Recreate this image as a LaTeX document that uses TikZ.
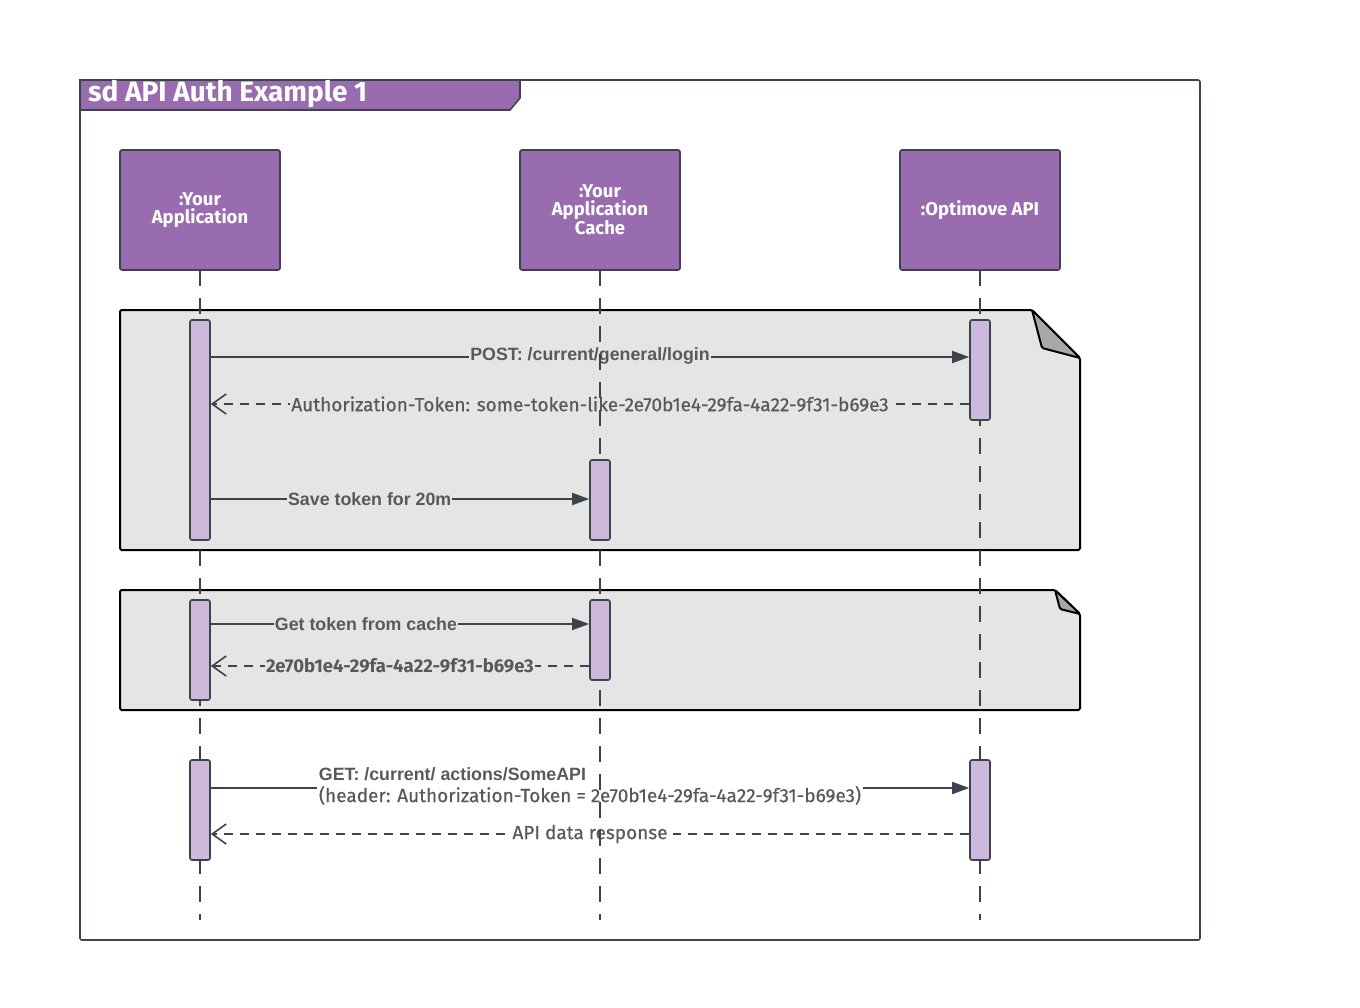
\documentclass[tikz,border=0pt]{standalone}
\usepackage{fontspec}
\setmainfont{Fira Sans}
\newfontfamily\arialfont{Liberation Sans}
\newfontfamily\firamid[FakeBold=0.5]{Fira Sans}
\usepackage{tikz}
\usetikzlibrary{arrows.meta,positioning,calc}
\definecolor{umlpurple}{HTML}{986CAE}
\definecolor{umlviolet}{HTML}{CDB9DC}
\definecolor{umlline}{HTML}{3C434D}
\definecolor{umltext}{HTML}{58595B}
\definecolor{notegray}{HTML}{E5E5E5}
\definecolor{foldgray}{HTML}{A8A8A8}
\pgfdeclarelayer{back}
\pgfdeclarelayer{mid}
\pgfsetlayers{back,mid,main}

\begin{document}
\begin{tikzpicture}[x=1pt,y=-1pt,node distance=240pt,
head/.style={
% The shape:
rectangle,rounded corners=2pt,outer sep=0pt,
% The size:
minimum width=160pt,minimum height=120pt,
% The border:
line width=1.6pt,draw=umlline,
% The filling:
fill=umlpurple,
% Font
text=white,align=center,font=\bfseries\fontsize{18.5}{18}\selectfont
},
act/.style={
% The shape:
rectangle,rounded corners=2pt,inner sep=0pt,
minimum width=20pt,
% The rest
line width=1.6pt,draw=umlline,fill=umlviolet},
life/.style={draw=umlline,line width=1.6pt,dash pattern=on 16pt off 12pt},
msg/.style={draw=umlline,line width=1.6pt,-{Triangle[length=17pt,width=12pt]}},
reply/.style={draw=umlline,line width=1.6pt,dash pattern=on 9pt off 7pt,
  -{Straight Barb[length=14pt,width=20pt,line width=1.6pt]}},
note/.style={draw=black,line width=2pt,fill=notegray,rounded corners=1.5pt},
lbl/.style={text=umltext,inner sep=1.5pt,font=\firamid\fontsize{19}{22}\selectfont},
albl/.style={text=umltext,inner sep=1pt,font=\arialfont\bfseries\fontsize{17.8}{22}\selectfont}
]
\useasboundingbox (0,0) rectangle (1360,1007);

% frame and title
\begin{pgfonlayer}{back}
\draw[umlline,line width=1.6pt,rounded corners=2pt] (80,80) rectangle (1200,940);
\draw[umlline,line width=1.6pt,fill=umlpurple] (80,80) -- (520,80) -- (520,98) -- (510,110) -- (80,110) -- cycle;
\node (title) [anchor=west,text=white,font=\bfseries\fontsize{28}{30}\selectfont,inner sep=0pt] at (88,94) {sd API Auth Example 1};
\end{pgfonlayer}

% lifeline heads
\node (app) [head] at (200,210) {:Your\\Application};
\node (cache) [head, right=of app] {:Your\\Application\\Cache};
\node (api) [head, right=220pt of cache] {:Optimove API};
\coordinate (bottom) at (0,920);

% notes
\begin{pgfonlayer}{back}
\draw[note] (120,310) -- (1032,310) -- (1080,358) -- (1080,550) -- (120,550) -- cycle;
\draw[note,fill=foldgray] (1032,310) -- (1042,348) -- (1080,358) -- cycle;
\draw[note] (120,590) -- (1055,590) -- (1080,614) -- (1080,710) -- (120,710) -- cycle;
\draw[note,fill=foldgray] (1055,590) -- (1060,609) -- (1080,614) -- cycle;
\end{pgfonlayer}

% lifelines
\begin{pgfonlayer}{mid}
\draw[life] (app.south) -- (app.south |- bottom);
\draw[life] (cache.south) -- (cache.south |- bottom);
\draw[life] (api.south) -- (api.south |- bottom);
\end{pgfonlayer}

% activations
\node (a1) [act, minimum height=220pt] at (200,430) {};
\node (o1) [act, minimum height=100pt] at (980,370) {};
\node (c1) [act, minimum height=80pt] at (600,500) {};
\node (a2) [act, minimum height=100pt] at (200,650) {};
\node (c2) [act, minimum height=80pt] at (600,640) {};
\node (a3) [act, minimum height=100pt] at (200,810) {};
\node (o3) [act, minimum height=100pt] at (980,810) {};

% messages
\coordinate (m1) at (0,357);
\coordinate (m2) at (0,404);
\coordinate (m3) at (0,499);
\coordinate (m4) at (0,624);
\coordinate (m5) at (0,666);
\coordinate (m6) at (0,788);
\coordinate (m7) at (0,834);
\begin{pgfonlayer}{back}
\draw[msg] (a1.east |- m1) -- node[albl,fill=notegray,yshift=1pt] {POST: /current/general/login} (o1.west |- m1);
\draw[reply] (o1.west |- m2) -- node[lbl,fill=notegray] {Authorization-Token: some-token-like-2e70b1e4-29fa-4a22-9f31-b69e3} (a1.east |- m2);
\draw[msg] (a1.east |- m3) -- node[albl,fill=notegray,pos=0.42] {Save token for 20m} (c1.west |- m3);
\draw[msg] (a1.east |- m4) -- node[albl,fill=notegray,pos=0.41] {Get token from cache} (c2.west |- m4);
\draw[reply] (c2.west |- m5) -- node[lbl,fill=notegray,font=\bfseries\fontsize{18.5}{22}\selectfont] {2e70b1e4-29fa-4a22-9f31-b69e3} (a2.east |- m5);
\draw[msg] (a3.east |- m6) -- node[lbl,fill=white,align=left,yshift=2pt] {{\arialfont\bfseries\fontsize{17.8}{22}\selectfont GET: /current/ actions/SomeAPI}\\(header: Authorization-Token = 2e70b1e4-29fa-4a22-9f31-b69e3)} (o3.west |- m6);
\draw[reply] (o3.west |- m7) -- node[lbl,fill=white,inner xsep=5pt] {API data response} (a3.east |- m7);
\end{pgfonlayer}
\end{tikzpicture}
\end{document}
